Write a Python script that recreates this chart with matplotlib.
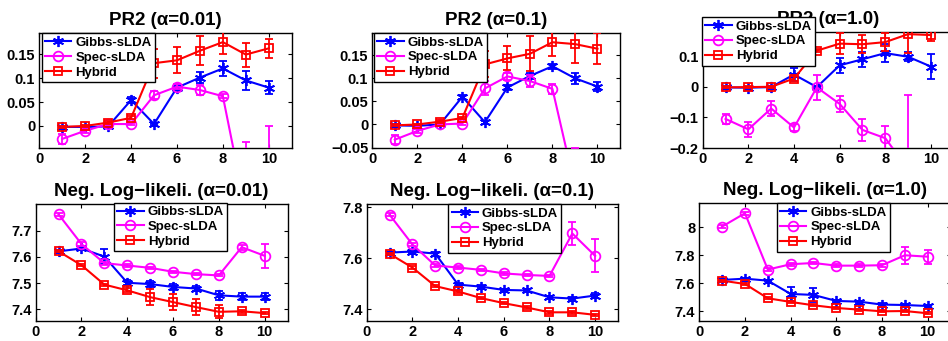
import matplotlib.pyplot as plt
from matplotlib.ticker import FuncFormatter

plt.rcParams['font.family'] = ['Liberation Sans', 'DejaVu Sans']
plt.rcParams['font.weight'] = 'bold'

# ---------------- DATA ----------------
x_vals = [1, 2, 3, 4, 5, 6, 7, 8, 9, 10]
series_names = ['Gibbs-sLDA', 'Spec-sLDA', 'Hybrid']

titles = ['PR2 (\u03b1=0.01)', 'PR2 (\u03b1=0.1)', 'PR2 (\u03b1=1.0)',
          'Neg. Log\u2212likeli. (\u03b1=0.01)', 'Neg. Log\u2212likeli. (\u03b1=0.1)',
          'Neg. Log\u2212likeli. (\u03b1=1.0)']

# PR2, alpha = 0.01
gibbs_pr2_a001 = [-0.002, -0.002, -0.001, 0.054, 0.004, 0.080, 0.101, 0.120, 0.095, 0.080]
gibbs_pr2_a001_err = [0.002, 0.002, 0.003, 0.007, 0.003, 0.005, 0.012, 0.015, 0.020, 0.014]
spec_pr2_a001 = [-0.027, -0.010, 0.004, 0.004, 0.064, 0.082, 0.075, 0.062, -0.176, -0.300]
spec_pr2_a001_err = [0.010, 0.004, 0.003, 0.003, 0.008, 0.005, 0.010, 0.004, 0.143, 0.300]
hybrid_pr2_a001 = [-0.002, 0.000, 0.007, 0.017, 0.131, 0.137, 0.157, 0.175, 0.149, 0.162]
hybrid_pr2_a001_err = [0.002, 0.002, 0.003, 0.003, 0.030, 0.027, 0.030, 0.025, 0.025, 0.020]

# PR2, alpha = 0.1
gibbs_pr2_a01 = [-0.002, -0.003, 0.000, 0.060, 0.005, 0.080, 0.105, 0.126, 0.100, 0.082]
gibbs_pr2_a01_err = [0.002, 0.002, 0.003, 0.004, 0.003, 0.006, 0.006, 0.005, 0.012, 0.009]
spec_pr2_a01 = [-0.033, -0.014, 0.000, 0.002, 0.078, 0.104, 0.094, 0.077, -0.135, -0.300]
spec_pr2_a01_err = [0.010, 0.005, 0.003, 0.003, 0.015, 0.008, 0.014, 0.010, 0.085, 0.100]
hybrid_pr2_a01 = [-0.002, 0.000, 0.006, 0.014, 0.130, 0.143, 0.153, 0.178, 0.174, 0.164]
hybrid_pr2_a01_err = [0.002, 0.002, 0.003, 0.003, 0.028, 0.026, 0.038, 0.030, 0.040, 0.034]

# PR2, alpha = 1.0
gibbs_pr2_a1 = [-0.002, -0.003, -0.001, 0.040, -0.001, 0.070, 0.090, 0.110, 0.098, 0.066]
gibbs_pr2_a1_err = [0.003, 0.003, 0.003, 0.020, 0.004, 0.025, 0.025, 0.030, 0.015, 0.040]
spec_pr2_a1 = [-0.105, -0.139, -0.071, -0.133, -0.002, -0.056, -0.141, -0.168, -0.270, -0.400]
spec_pr2_a1_err = [0.015, 0.025, 0.025, 0.010, 0.040, 0.025, 0.035, 0.040, 0.242, 0.100]
hybrid_pr2_a1 = [-0.002, -0.001, 0.000, 0.027, 0.118, 0.141, 0.139, 0.146, 0.172, 0.169]
hybrid_pr2_a1_err = [0.003, 0.003, 0.003, 0.008, 0.005, 0.035, 0.030, 0.030, 0.060, 0.020]

# Neg. log-likelihood, alpha = 0.01
gibbs_nll_a001 = [7.621, 7.632, 7.601, 7.501, 7.496, 7.485, 7.479, 7.453, 7.448, 7.448]
gibbs_nll_a001_err = [0.004, 0.005, 0.030, 0.010, 0.010, 0.012, 0.010, 0.016, 0.012, 0.013]
spec_nll_a001 = [7.762, 7.649, 7.576, 7.567, 7.558, 7.543, 7.534, 7.529, 7.637, 7.604]
spec_nll_a001_err = [0.005, 0.006, 0.006, 0.004, 0.004, 0.004, 0.004, 0.004, 0.010, 0.046]
hybrid_nll_a001 = [7.621, 7.568, 7.494, 7.472, 7.446, 7.427, 7.408, 7.390, 7.392, 7.385]
hybrid_nll_a001_err = [0.004, 0.004, 0.004, 0.008, 0.030, 0.030, 0.030, 0.025, 0.005, 0.004]

# Neg. log-likelihood, alpha = 0.1
gibbs_nll_a01 = [7.622, 7.626, 7.618, 7.496, 7.488, 7.475, 7.473, 7.446, 7.441, 7.453]
gibbs_nll_a01_err = [0.004, 0.005, 0.008, 0.005, 0.005, 0.005, 0.005, 0.005, 0.005, 0.008]
spec_nll_a01 = [7.771, 7.654, 7.571, 7.563, 7.554, 7.540, 7.534, 7.530, 7.697, 7.609]
spec_nll_a01_err = [0.006, 0.006, 0.006, 0.005, 0.005, 0.005, 0.005, 0.005, 0.045, 0.065]
hybrid_nll_a01 = [7.617, 7.563, 7.490, 7.469, 7.443, 7.423, 7.406, 7.387, 7.387, 7.377]
hybrid_nll_a01_err = [0.005, 0.005, 0.005, 0.005, 0.005, 0.005, 0.005, 0.005, 0.005, 0.004]

# Neg. log-likelihood, alpha = 1.0
gibbs_nll_a1 = [7.624, 7.633, 7.619, 7.524, 7.517, 7.474, 7.469, 7.448, 7.445, 7.438]
gibbs_nll_a1_err = [0.006, 0.006, 0.006, 0.050, 0.050, 0.010, 0.008, 0.008, 0.008, 0.008]
spec_nll_a1 = [8.005, 8.100, 7.698, 7.736, 7.745, 7.726, 7.726, 7.729, 7.800, 7.790]
spec_nll_a1_err = [0.010, 0.010, 0.010, 0.012, 0.010, 0.010, 0.010, 0.010, 0.060, 0.050]
hybrid_nll_a1 = [7.619, 7.595, 7.493, 7.467, 7.443, 7.424, 7.412, 7.400, 7.402, 7.386]
hybrid_nll_a1_err = [0.008, 0.008, 0.008, 0.010, 0.008, 0.008, 0.008, 0.008, 0.008, 0.008]

panel_data = [
    [(gibbs_pr2_a001, gibbs_pr2_a001_err), (spec_pr2_a001, spec_pr2_a001_err), (hybrid_pr2_a001, hybrid_pr2_a001_err)],
    [(gibbs_pr2_a01, gibbs_pr2_a01_err), (spec_pr2_a01, spec_pr2_a01_err), (hybrid_pr2_a01, hybrid_pr2_a01_err)],
    [(gibbs_pr2_a1, gibbs_pr2_a1_err), (spec_pr2_a1, spec_pr2_a1_err), (hybrid_pr2_a1, hybrid_pr2_a1_err)],
    [(gibbs_nll_a001, gibbs_nll_a001_err), (spec_nll_a001, spec_nll_a001_err), (hybrid_nll_a001, hybrid_nll_a001_err)],
    [(gibbs_nll_a01, gibbs_nll_a01_err), (spec_nll_a01, spec_nll_a01_err), (hybrid_nll_a01, hybrid_nll_a01_err)],
    [(gibbs_nll_a1, gibbs_nll_a1_err), (spec_nll_a1, spec_nll_a1_err), (hybrid_nll_a1, hybrid_nll_a1_err)],
]

y_ticks = [[0, 0.05, 0.1, 0.15], [-0.05, 0, 0.05, 0.1, 0.15], [-0.2, -0.1, 0, 0.1],
           [7.4, 7.5, 7.6, 7.7], [7.4, 7.6, 7.8], [7.4, 7.6, 7.8, 8.0]]
y_limits = [(-0.046, 0.194), (-0.051, 0.198), (-0.2, 0.178),
            (7.356, 7.802), (7.354, 7.813), (7.333, 8.171)]

# ---------------- LAYOUT (pixels: left, top, right, bottom) ----------------
W, H = 948, 341
axes_px = [(39.3, 33, 291.7, 148), (372.3, 33, 620, 148), (702.7, 32.3, 953.8, 148),
           (35.7, 204, 287.5, 320.7), (366.7, 204, 618, 320.7), (699.3, 203.3, 950.5, 320.7)]
legend_px = [(41.7, 33.3), (374, 33), (702, 17), (114, 202.7), (448.3, 204), (776.7, 203)]

colors = ['#0000ff', '#ff00ff', '#ff0000']
markers = [(6, 2, 0), 'o', 's']   # asterisk, open circle, open square
msizes = [8, 7, 5.5]


def fmt_tick(v, pos):
    s = ('%.2f' % v).rstrip('0').rstrip('.')
    if s in ('-0', ''):
        s = '0'
    return s.replace('-', '\u2212')


fig = plt.figure(figsize=(W / 100, H / 100), dpi=100)

for i in range(6):
    l, t, r, b = axes_px[i]
    ax = fig.add_axes([l / W, 1 - b / H, (r - l) / W, (b - t) / H])
    handles = []
    for j, (vals, errs) in enumerate(panel_data[i]):
        ax.errorbar(x_vals, vals, yerr=errs, fmt='none', ecolor=colors[j],
                    elinewidth=1.3, capsize=3, capthick=1.3, zorder=2 + j)
        h, = ax.plot(x_vals, vals, color=colors[j], marker=markers[j], markersize=msizes[j],
                     markerfacecolor='none', markeredgecolor=colors[j],
                     markeredgewidth=1.3, linewidth=1.5,
                     label=series_names[j], zorder=2 + j)
        handles.append(h)
    ax.set_xlim(0, 11)
    ax.set_ylim(*y_limits[i])
    ax.set_xticks([0, 2, 4, 6, 8, 10])
    ax.set_yticks(y_ticks[i])
    ax.yaxis.set_major_formatter(FuncFormatter(fmt_tick))
    ax.tick_params(direction='in', top=True, right=True, length=3, width=0.8,
                   labelsize=10.5, pad=3)
    for lab in ax.get_xticklabels() + ax.get_yticklabels():
        lab.set_fontweight('bold')
    for sp in ax.spines.values():
        sp.set_linewidth(1.0)
    ax.set_title(titles[i], fontsize=13.5, fontweight='bold', pad=6)

    # legend box placed at its spot in figure pixels
    lx, ly = legend_px[i]
    leg = ax.legend(handles=handles, loc='upper left', bbox_to_anchor=(lx / W, 1 - ly / H),
                    bbox_transform=fig.transFigure, borderaxespad=0, fancybox=False,
                    framealpha=1, edgecolor='black', prop={'weight': 'bold', 'size': 9.5},
                    handlelength=2.0, handletextpad=0.3, labelspacing=0.2,
                    borderpad=0.25, numpoints=1)
    leg.get_frame().set_linewidth(1.0)
    leg.set_zorder(10)

fig.savefig('out.png', dpi=100)
